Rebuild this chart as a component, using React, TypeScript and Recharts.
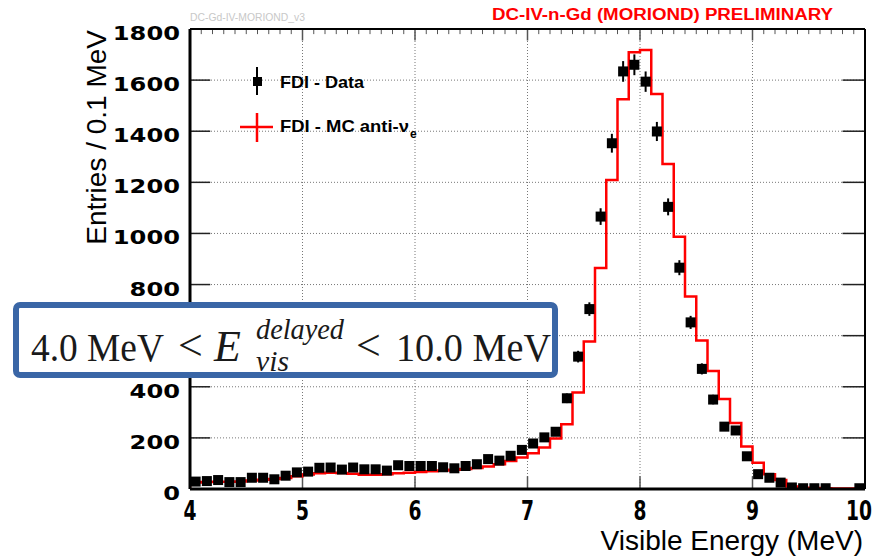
import {
  ComposedChart,
  XAxis,
  YAxis,
  CartesianGrid,
  Line,
  Scatter,
  ErrorBar,
  ReferenceLine,
} from 'recharts';

// bin centres of the data points (0.1 MeV bins)
const binCenters = [
  4.05, 4.15, 4.25, 4.35, 4.45, 4.55, 4.65, 4.75, 4.85, 4.95,
  5.05, 5.15, 5.25, 5.35, 5.45, 5.55, 5.65, 5.75, 5.85, 5.95,
  6.05, 6.15, 6.25, 6.35, 6.45, 6.55, 6.65, 6.75, 6.85, 6.95,
  7.05, 7.15, 7.25, 7.35, 7.45, 7.55, 7.65, 7.75, 7.85, 7.95,
  8.05, 8.15, 8.25, 8.35, 8.45, 8.55, 8.65, 8.75, 8.85, 8.95,
  9.05, 9.15, 9.25, 9.35, 9.45, 9.55, 9.65, 9.75, 9.85, 9.95,
];

// FDI data, entries per bin (empty bins are null)
const dataCounts = [
  29, 31, 35, 27, 27, 44, 44, 38, 52, 65,
  68, 83, 84, 76, 84, 77, 77, 72, 93, 90,
  90, 90, 85, 81, 90, 97, 117, 111, 130, 153,
  178, 202, 224, 355, 518, 704, 1066, 1353, 1634, 1660,
  1594, 1399, 1104, 866, 652, 470, 350, 244, 229, 128,
  58, 44, 25, 6, 3, 3, 3, null, null, 3,
];

const dataErrors = [
  5.4, 5.6, 5.9, 5.2, 5.2, 6.6, 6.6, 6.2, 7.2, 8.1,
  8.2, 9.1, 9.2, 8.7, 9.2, 8.8, 8.8, 8.5, 9.6, 9.5,
  9.5, 9.5, 9.2, 9.0, 9.5, 9.8, 10.8, 10.5, 11.4, 12.4,
  13.3, 14.2, 15.0, 18.8, 22.8, 26.5, 32.6, 36.8, 40.4, 40.7,
  39.9, 37.4, 33.2, 29.4, 25.5, 21.7, 18.7, 15.6, 15.1, 11.3,
  7.6, 6.6, 5.0, 2.4, 1.7, 1.7, 1.7, null, null, 1.7,
];

// MC histogram: low edges of the bins, plus the upper edge 10.0
const mcEdges = [
  4.0, 4.1, 4.2, 4.3, 4.4, 4.5, 4.6, 4.7, 4.8, 4.9,
  5.0, 5.1, 5.2, 5.3, 5.4, 5.5, 5.6, 5.7, 5.8, 5.9,
  6.0, 6.1, 6.2, 6.3, 6.4, 6.5, 6.6, 6.7, 6.8, 6.9,
  7.0, 7.1, 7.2, 7.3, 7.4, 7.5, 7.6, 7.7, 7.8, 7.9,
  8.0, 8.1, 8.2, 8.3, 8.4, 8.5, 8.6, 8.7, 8.8, 8.9,
  9.0, 9.1, 9.2, 9.3, 9.4, 9.5, 9.6, 9.7, 9.8, 9.9,
  10.0,
];

const mcCounts = [
  25, 27, 28, 28, 29, 33, 36, 39, 43, 50,
  57, 62, 64, 63, 60, 56, 56, 58, 62, 64,
  67, 69, 72, 75, 78, 82, 88, 97, 110, 123,
  140, 162, 198, 253, 378, 577, 865, 1209, 1525, 1709,
  1718, 1546, 1272, 987, 753, 581, 462, 352, 258, 166,
  103, 58, 35, 10, 5, 4, 3, 2, 2, 2,
];

const xTicks = [4, 5, 6, 7, 8, 9, 10];
const yTicks = [0, 200, 400, 600, 800, 1000, 1200, 1400, 1600, 1800];
const xMinorTicks = mcEdges.filter((e) => Math.abs(e - Math.round(e)) > 0.01);

const dataPoints = binCenters
  .map((x, i) => ({ x, y: dataCounts[i], err: dataErrors[i] }))
  .filter((p) => p.y !== null);

const mcPoints = [
  { x: 4, y: 0 },
  ...mcEdges.map((x, i) => ({ x, y: i < mcCounts.length ? mcCounts[i] : mcCounts[mcCounts.length - 1] })),
  { x: 10, y: 0 },
];

const W = 882;
const H = 559;

function YTick(props: any) {
  const s = String(props.payload.value);
  // the 600 label sits under the cut box in the original, so it is not drawn
  if (s === '600') return <g />;
  return (
    <text
      x={props.x}
      y={props.y + 11}
      textAnchor="end"
      fontFamily="DejaVu Sans"
      fontWeight="bold"
      fontSize={20}
      textLength={s.length * 16.8}
      lengthAdjust="spacingAndGlyphs"
      fill="#000"
    >
      {s}
    </text>
  );
}

function XTick(props: any) {
  const s = String(props.payload.value);
  const shift = s.length > 1 ? -6 : 0;
  return (
    <text
      x={props.x + shift}
      y={props.y + 31}
      textAnchor="middle"
      fontFamily="DejaVu Sans"
      fontWeight="bold"
      fontSize={27}
      textLength={s.length * 13}
      lengthAdjust="spacingAndGlyphs"
      fill="#000"
    >
      {s}
    </text>
  );
}

const square = (p: any) => (
  <rect x={p.cx - 5} y={p.cy - 5} width={10} height={10} fill="#000" />
);

export default function App() {
  return (
    <div style={{ position: 'relative', width: W, height: H, background: '#fff' }}>
      <style>{'body{margin:0;background:#fff}'}</style>
      <ComposedChart
        width={W}
        height={H}
        margin={{ top: 29, right: 17, bottom: 0, left: 0 }}
      >
        <CartesianGrid stroke="#777" strokeDasharray="1 2" />
        <XAxis
          dataKey="x"
          type="number"
          domain={[4, 10]}
          ticks={xTicks}
          interval={0}
          height={70}
          axisLine={false}
          tickLine={false}
          tickSize={0}
          tickMargin={0}
          tick={XTick}
          allowDataOverflow
        />
        <YAxis
          dataKey="y"
          type="number"
          domain={[0, 1800]}
          ticks={yTicks}
          interval={0}
          width={190}
          axisLine={false}
          tickLine={false}
          tickSize={0}
          tickMargin={10}
          tick={YTick}
          allowDataOverflow
        />

        {/* frame ticks */}
        {yTicks.slice(1, -1).map((v) => (
          <ReferenceLine key={'yl' + v} segment={[{ x: 4, y: v }, { x: 4.18, y: v }]} stroke="#222" strokeWidth={1.5} />
        ))}
        {yTicks.slice(1, -1).map((v) => (
          <ReferenceLine key={'yr' + v} segment={[{ x: 9.8, y: v }, { x: 10, y: v }]} stroke="#222" strokeWidth={1.5} />
        ))}
        {xTicks.slice(1, -1).map((v) => (
          <ReferenceLine key={'xb' + v} segment={[{ x: v, y: 0 }, { x: v, y: 50 }]} stroke="#555" strokeWidth={1.5} />
        ))}
        {xTicks.slice(1, -1).map((v) => (
          <ReferenceLine key={'xt' + v} segment={[{ x: v, y: 1800 }, { x: v, y: 1755 }]} stroke="#555" strokeWidth={1.5} />
        ))}
        {xMinorTicks.map((v) => (
          <ReferenceLine key={'xm' + v} segment={[{ x: v, y: 1800 }, { x: v, y: 1780 }]} stroke="#555" strokeWidth={1} />
        ))}

        <Line
          data={mcPoints}
          dataKey="y"
          type="stepAfter"
          stroke="#ff0000"
          strokeWidth={2.5}
          dot={false}
          activeDot={false}
          isAnimationActive={false}
        />
        <Scatter data={dataPoints} dataKey="y" shape={square} isAnimationActive={false}>
          <ErrorBar dataKey="err" direction="y" width={0} stroke="#000" strokeWidth={2} isAnimationActive={false} />
        </Scatter>

        {/* frame */}
        <ReferenceLine x={4} stroke="#000" strokeWidth={3} />
        <ReferenceLine x={10} stroke="#000" strokeWidth={2} />
        <ReferenceLine y={0} stroke="#000" strokeWidth={3} />
        <ReferenceLine y={1800} stroke="#000" strokeWidth={2} />
      </ComposedChart>

      <svg
        width={W}
        height={H}
        style={{ position: 'absolute', left: 0, top: 0, pointerEvents: 'none' }}
      >
        <text x={190} y={21} fontFamily="Liberation Sans" fontSize={10} fill="#c8c8c8" textLength={115} lengthAdjust="spacingAndGlyphs">
          DC-Gd-IV-MORIOND_v3
        </text>
        <text x={492} y={20} fontFamily="Liberation Sans" fontWeight="bold" fontSize={16} fill="#ff0000" textLength={341} lengthAdjust="spacingAndGlyphs">
          DC-IV-n-Gd (MORIOND) PRELIMINARY
        </text>

        {/* legend */}
        <line x1={257} y1={67} x2={257} y2={95} stroke="#000" strokeWidth={2} />
        <rect x={253} y={77} width={9} height={9} fill="#000" />
        <text x={280} y={88} fontFamily="Liberation Sans" fontWeight="bold" fontSize={17} fill="#000" textLength={84} lengthAdjust="spacingAndGlyphs">
          FDI - Data
        </text>
        <line x1={240} y1={127} x2={273} y2={127} stroke="#ff0000" strokeWidth={2.5} />
        <line x1={257} y1={113} x2={257} y2={142} stroke="#ff0000" strokeWidth={2.5} />
        <text x={280} y={132} fontFamily="Liberation Sans" fontWeight="bold" fontSize={17} fill="#000" textLength={129} lengthAdjust="spacingAndGlyphs">
          FDI - MC anti-ν
        </text>
        <text x={410} y={138} fontFamily="Liberation Sans" fontWeight="bold" fontSize={12} fill="#000">
          e
        </text>

        {/* axis titles */}
        <text transform="translate(106,30) rotate(-90)" textAnchor="end" fontFamily="Liberation Sans" fontSize={28} fill="#000">
          Entries / 0.1 MeV
        </text>
        <text x={863} y={550} textAnchor="end" fontFamily="Liberation Sans" fontSize={28} fill="#000">
          Visible Energy (MeV)
        </text>

        {/* cut box */}
        <rect x={16} y={305} width={539} height={70} rx={4} fill="#fff" stroke="#3a66a6" strokeWidth={6} />
        <g fontFamily="Liberation Serif" fill="#1a1a1a">
          <text x={31} y={361} fontSize={40} textLength={133} lengthAdjust="spacingAndGlyphs">4.0 MeV</text>
          <text x={178} y={360} fontSize={44}>&lt;</text>
          <text x={214} y={361} fontSize={44} fontStyle="italic">E</text>
          <text x={256} y={339} fontSize={29} fontStyle="italic" textLength={88} lengthAdjust="spacingAndGlyphs">delayed</text>
          <text x={256} y={371} fontSize={29} fontStyle="italic" textLength={33} lengthAdjust="spacingAndGlyphs">vis</text>
          <text x={356} y={360} fontSize={44}>&lt;</text>
          <text x={396} y={361} fontSize={40} textLength={155} lengthAdjust="spacingAndGlyphs">10.0 MeV</text>
        </g>
      </svg>
    </div>
  );
}
